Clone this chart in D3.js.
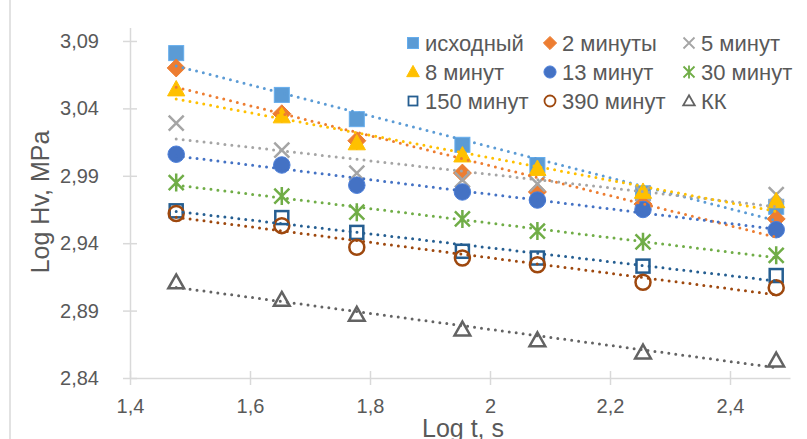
<!DOCTYPE html>
<html><head><meta charset="utf-8">
<script src="https://cdn.jsdelivr.net/npm/d3@7"></script>
<style>
body{margin:0;background:#fff;}
svg{display:block;font-family:"Liberation Sans",Arial,sans-serif;}
</style></head>
<body><svg id="c" width="807" height="439"></svg>
<script>
// ---- data ----
const logT = [1.477, 1.653, 1.778, 1.954, 2.079, 2.255, 2.477];
const seriesNames = ["исходный","2 минуты","5 минут","8 минут","13 минут","30 минут","150 минут","390 минут","КК"];
const vIskhodny = [3.081, 3.050, 3.032, 3.013, 2.998, 2.977, 2.967];
const v2min     = [3.070, 3.036, 3.016, 2.992, 2.978, 2.969, 2.958];
const v5min     = [3.029, 3.009, 2.992, 2.987, 2.984, 2.977, 2.976];
const v8min     = [3.054, 3.034, 3.014, 3.005, 2.995, 2.978, 2.971];
const v13min    = [3.006, 2.998, 2.983, 2.978, 2.972, 2.965, 2.950];
const v30min    = [2.985, 2.975, 2.963, 2.958, 2.949, 2.941, 2.931];
const v150min   = [2.964, 2.959, 2.948, 2.934, 2.929, 2.923, 2.916];
const v390min   = [2.962, 2.953, 2.937, 2.929, 2.924, 2.911, 2.907];
const vKK       = [2.911, 2.898, 2.887, 2.876, 2.868, 2.859, 2.853];
const xTicks = [1.4, 1.6, 1.8, 2.0, 2.2, 2.4];
const yTicks = [2.84, 2.89, 2.94, 2.99, 3.04, 3.09];

const allValues = [vIskhodny, v2min, v5min, v8min, v13min, v30min, v150min, v390min, vKK];
const styles = [
  {m:"square",   c:"#5B9BD5"},
  {m:"diamond",  c:"#ED7D31"},
  {m:"x",        c:"#A5A5A5"},
  {m:"triangle", c:"#FFC000"},
  {m:"circle",   c:"#4472C4"},
  {m:"star",     c:"#70AD47"},
  {m:"osquare",  c:"#255E91"},
  {m:"ocircle",  c:"#9E480E"},
  {m:"otriangle",c:"#636363"}
];

const svg = d3.select("#c");
const x = d3.scaleLinear().domain([1.4, 2.5]).range([130, 790]);
const y = d3.scaleLinear().domain([2.84, 3.1]).range([378, 27.5]);
const fmt = d => d3.format(".2~f")(d).replace(".", ",");

// chart border
svg.append("rect").attr("x",10).attr("y",-2).attr("width",810).attr("height",450)
  .attr("fill","none").attr("stroke","#d9d9d9").attr("stroke-width",1.5);

// axes
const gx = svg.append("g").attr("transform","translate(0,378)")
  .call(d3.axisBottom(x).tickValues(xTicks).tickFormat(fmt).tickSizeOuter(0).tickSizeInner(7).tickPadding(14));
gx.select(".domain").attr("stroke","#d9d9d9").attr("stroke-width",1.5);
gx.selectAll(".tick line").attr("stroke","#d9d9d9").attr("stroke-width",1.5).attr("y1",-7).attr("y2",7);
gx.selectAll(".tick text").attr("fill","#595959").style("font-size","20px").attr("font-family","Liberation Sans, Arial, sans-serif");

const gy = svg.append("g").attr("transform","translate(130,0)")
  .call(d3.axisLeft(y).tickValues(yTicks).tickFormat(fmt).tickSizeOuter(0).tickSizeInner(7).tickPadding(24));
gy.select(".domain").attr("stroke","#d9d9d9").attr("stroke-width",1.5);
gy.selectAll(".tick line").attr("stroke","#d9d9d9").attr("stroke-width",1.5).attr("x1",-7).attr("x2",7);
gy.selectAll(".tick text").attr("fill","#595959").style("font-size","20px").attr("font-family","Liberation Sans, Arial, sans-serif");

// axis titles
svg.append("text").attr("transform","translate(49,202) rotate(-90)").attr("text-anchor","middle")
  .attr("fill","#595959").style("font-size","25px").text("Log Hv, MPa");
svg.append("text").attr("x",463).attr("y",437).attr("text-anchor","middle")
  .attr("fill","#595959").style("font-size","25px").text("Log t, s");

// marker drawing
function drawMarker(g, type, color, s){
  const sw = s > 6 ? 2.5 : 1.8;
  switch(type){
    case "square":
      g.append("rect").attr("x",-s).attr("y",-s).attr("width",2*s).attr("height",2*s)
        .attr("fill",color).attr("stroke",d3.color(color).brighter(0.3)).attr("stroke-width",1); break;
    case "diamond":
      g.append("path").attr("d",`M0,${-s*1.2}L${s*1.2},0L0,${s*1.2}L${-s*1.2},0Z`)
        .attr("fill",color).attr("stroke",color).attr("stroke-width",1); break;
    case "x":
      g.append("path").attr("d",`M${-s},${-s}L${s},${s}M${-s},${s}L${s},${-s}`)
        .attr("stroke",color).attr("stroke-width",sw).attr("fill","none"); break;
    case "triangle":
      g.append("path").attr("d",`M0,${-s*1.2}L${s*1.15},${s*0.85}L${-s*1.15},${s*0.85}Z`)
        .attr("fill",color).attr("stroke",color).attr("stroke-width",1); break;
    case "circle":
      g.append("circle").attr("r",s*1.1).attr("fill",color).attr("stroke",d3.color(color).brighter(0.3)).attr("stroke-width",1); break;
    case "star":
      g.append("path").attr("d",`M${-s},${-s}L${s},${s}M${-s},${s}L${s},${-s}M0,${-s*1.2}L0,${s*1.2}`)
        .attr("stroke",color).attr("stroke-width",sw).attr("fill","none"); break;
    case "osquare":
      g.append("rect").attr("x",-s+1).attr("y",-s+1).attr("width",2*s-2).attr("height",2*s-2)
        .attr("fill","none").attr("stroke",color).attr("stroke-width",sw); break;
    case "ocircle":
      g.append("circle").attr("r",s).attr("fill","none").attr("stroke",color).attr("stroke-width",sw); break;
    case "otriangle":
      g.append("path").attr("d",`M0,${-s*1.05}L${s*1.05},${s*0.8}L${-s*1.05},${s*0.8}Z`)
        .attr("fill","none").attr("stroke",color).attr("stroke-width",sw).attr("stroke-linejoin","miter"); break;
  }
}

// markers
allValues.forEach((vals, i) => {
  const st = styles[i];
  vals.forEach((v, j) => {
    const g = svg.append("g").attr("transform",`translate(${x(logT[j])},${y(v)})`);
    drawMarker(g, st.m, st.c, 7.5);
  });
});

// linear trendlines (least squares)
allValues.forEach((vals, i) => {
  const mx = d3.mean(logT), my = d3.mean(vals);
  let sxy = 0, sxx = 0;
  logT.forEach((t, j) => { sxy += (t-mx)*(vals[j]-my); sxx += (t-mx)*(t-mx); });
  const b = sxy/sxx, a = my - b*mx;
  const x0 = logT[0], x1 = logT[logT.length-1];
  svg.append("line").attr("x1",x(x0)).attr("y1",y(a+b*x0)).attr("x2",x(x1)).attr("y2",y(a+b*x1))
    .attr("stroke",styles[i].c).attr("stroke-width",3).attr("stroke-dasharray","0,7")
    .attr("stroke-linecap","round");
});

// legend
const legX = [413, 550, 689], legY = [43, 72, 101];
seriesNames.forEach((name, i) => {
  const col = i % 3, row = Math.floor(i/3);
  const g = svg.append("g").attr("transform",`translate(${legX[col]},${legY[row]})`);
  drawMarker(g, styles[i].m, styles[i].c, 5.5);
  svg.append("text").attr("x",legX[col]+12).attr("y",legY[row]).attr("dy","0.35em")
    .attr("fill","#595959").style("font-size","22px").text(name);
});
</script>
</body></html>
